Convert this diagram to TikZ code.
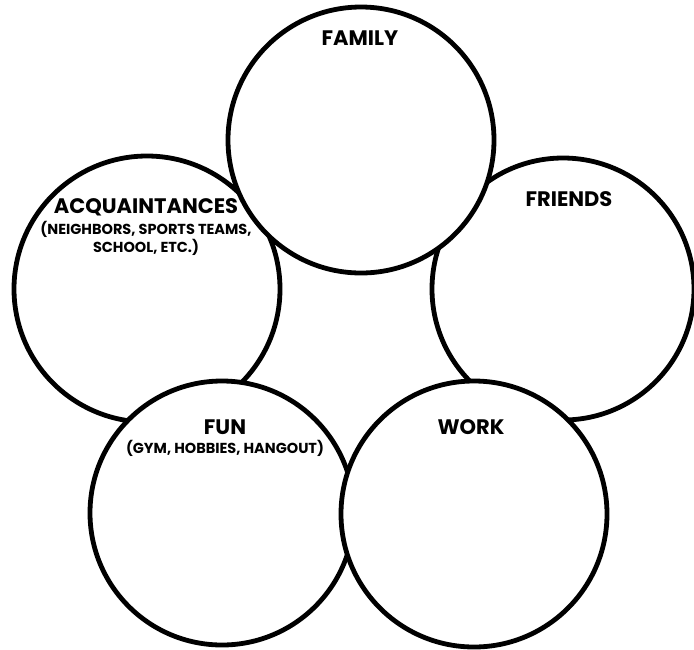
\documentclass[tikz,border=0pt]{standalone}
\usepackage{fontspec}
\setmainfont{Poppins}
\usetikzlibrary{positioning}

\begin{document}
\begin{tikzpicture}[
    x=1pt, y=-1pt,
    ring/.style={draw, circle, fill=white, line width=4.8pt, minimum size=#1, inner sep=0pt},
    title/.style={font=\fontsize{21}{23}\selectfont\bfseries, inner sep=0pt},
    sub/.style={font=\fontsize{14.5}{18}\selectfont\bfseries, align=center, inner sep=0pt},
]
    \useasboundingbox (0,0) rectangle (694,649);

    % Circles (later ones lie on top)
    \node[ring=266pt] (acq) at (147, 289) {};
    \node[ring=262pt] (friends) at (563, 289) {};
    \node[ring=266pt] (family) at (361, 140) {};
    \node[ring=264pt] (fun) at (222, 513) {};
    \node[ring=266pt] (work) at (474, 514) {};

    % Labels
    \node[title] (familylbl) at (360, 38) {FAMILY};
    \node[title] (friendslbl) at (569, 199) {FRIENDS};
    \node[title] (acqlbl) at (146, 207) {ACQUAINTANCES};
    \node[sub, below=5pt of acqlbl] (acqsub) {(NEIGHBORS, SPORTS TEAMS,\\SCHOOL, ETC.)};
    \node[title] (funlbl) at (225, 427) {FUN};
    \node[sub, below=5pt of funlbl] (funsub) {(GYM, HOBBIES, HANGOUT)};
    \node[title] (worklbl) at (471, 427) {WORK};

\end{tikzpicture}
\end{document}
